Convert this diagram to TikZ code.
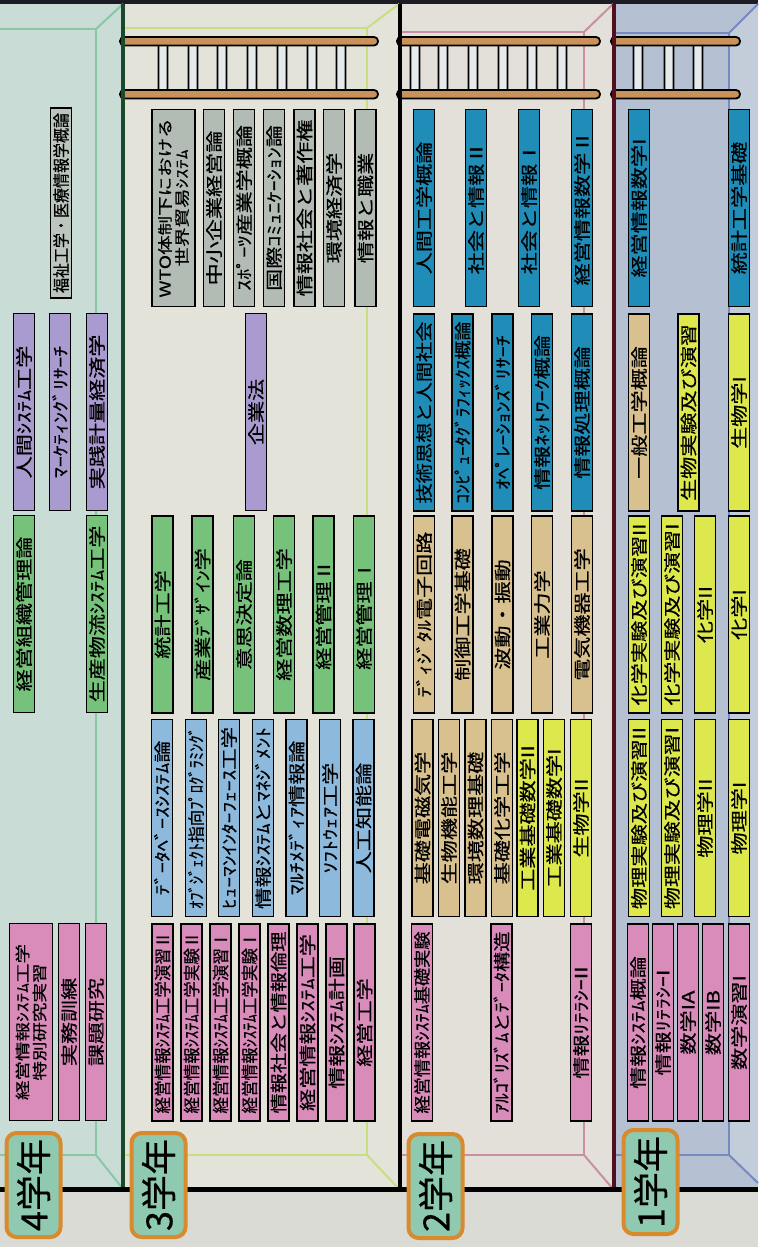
\documentclass[tikz,border=0pt]{standalone}
\usepackage{fontspec}
\setmainfont{Noto Sans CJK JP}[FakeBold=0.5]
\definecolor{floorc}{HTML}{D9DBD4}
\definecolor{p4c}{HTML}{C9DDD6}
\definecolor{p3c}{HTML}{E3E3D9}
\definecolor{p2c}{HTML}{E2E0D9}
\definecolor{p1c}{HTML}{B5C1D3}
\definecolor{p1side}{HTML}{C3CCD9}
\definecolor{topc}{HTML}{1C1C24}
\definecolor{l4}{HTML}{88C8A8}
\definecolor{l3}{HTML}{C8DE80}
\definecolor{l2}{HTML}{C890A2}
\definecolor{l1}{HTML}{7888C0}
\definecolor{s4}{HTML}{1A4A2A}
\definecolor{s2}{HTML}{501020}
\definecolor{cpink}{HTML}{D98BBA}
\definecolor{cgreen}{HTML}{77C27A}
\definecolor{cpurple}{HTML}{A99AD0}
\definecolor{cgrey}{HTML}{B3BBB5}
\definecolor{cgrey4}{HTML}{BCC6BF}
\definecolor{clblue}{HTML}{8DB9DD}
\definecolor{cdblue}{HTML}{1F8DB8}
\definecolor{ctan}{HTML}{D9C08F}
\definecolor{cyellow}{HTML}{DDE84C}
\definecolor{labfill}{HTML}{8FCAB0}
\definecolor{labdraw}{HTML}{D88A2E}
\definecolor{railc}{HTML}{C8925A}
\definecolor{rungc}{HTML}{E6EAEA}
\newlength\fitw
\newcommand{\fit}[2][182]{\settowidth{\fitw}{#2}\pgfmathsetmacro\fitsc{min(1.3,#1/\fitw)}\scalebox{\fitsc}[1]{#2}}
\newcommand{\crs}[5]{\node[#2] (#1) at (#3,#4) {\fit{#5}};}
\begin{document}
\begin{tikzpicture}[x=1pt,y=-1pt,
  box/.style={draw=black, line width=1.6pt, rotate=90, minimum width=197pt,
    minimum height=21pt, inner sep=0pt, font=\fontsize{17pt}{19pt}\selectfont},
  pinkb/.style={box, fill=cpink},
  greenb/.style={box, fill=cgreen},
  purpb/.style={box, fill=cpurple},
  grayb/.style={box, fill=cgrey},
  lblueb/.style={box, fill=clblue},
  dblueb/.style={box, fill=cdblue},
  tanb/.style={box, fill=ctan},
  yelb/.style={box, fill=cyellow},
  twol/.style={minimum height=43pt, align=center, font=\fontsize{15pt}{17pt}\selectfont},
  yearlab/.style={draw=labdraw, line width=4pt, fill=labfill, rounded corners=10pt,
    rotate=90, minimum width=104pt, minimum height=54pt, inner sep=0pt,
    font=\fontsize{36pt}{40pt}\selectfont},
  persp/.style={line width=2pt},
  rail/.style={draw=black, line width=1.8pt, fill=railc, rounded corners=4pt},
  rung/.style={draw=black, line width=1.8pt, fill=rungc, rounded corners=2.5pt}
]
\useasboundingbox (0,0) rectangle (758,1247);
% backgrounds
\fill[floorc] (0,0) rectangle (758,1247);
\fill[p4c] (0,4) rectangle (123,1189);
\fill[p3c] (123,4) rectangle (400,1189);
\fill[p2c] (400,4) rectangle (614,1189);
\fill[p1c] (614,4) rectangle (758,1189);
\fill[p1side] (729,33) -- (758,4) -- (758,1183) -- (729,1155) -- cycle;
\fill[topc] (0,0) rectangle (758,4.5);
% perspective lines
\draw[persp, l4] (0,29) -- (96,29) -- (96,1155) -- (0,1155);
\draw[persp, l4] (96,29) -- (123,4) (96,1155) -- (123,1189);
\draw[persp, l3] (124,28) -- (367,28) -- (367,1155) -- (124,1155);
\draw[persp, l3] (367,28) -- (399,4) (367,1155) -- (399,1189);
\draw[persp, l2] (402,32) -- (584,32) -- (584,1155) -- (402,1155);
\draw[persp, l2] (584,32) -- (613,4) (584,1155) -- (613,1189);
\draw[persp, l1] (616,33) -- (729,33) -- (729,1155) -- (616,1155);
\draw[persp, l1] (729,33) -- (758,4) (729,1155) -- (758,1183);
% ladders
\foreach \rx in {163,193,222,252,282,312,341,415,443,473,503,532,562,638,669,698}
  \draw[rung] (\rx-4.5,42) rectangle (\rx+4.5,93);
\draw[rail] (120,37) rectangle (378,45.5);
\draw[rail] (120,90) rectangle (378,98.5);
\draw[rail] (397,37) rectangle (600,45.5);
\draw[rail] (397,90) rectangle (600,98.5);
\draw[rail] (611,37) rectangle (740,45.5);
\draw[rail] (611,90) rectangle (740,98.5);
% separators and floor
\draw[s4, line width=3.5pt] (123,4) -- (123,1189);
\draw[black, line width=3.5pt] (400,4) -- (400,1189);
\draw[s2, line width=3.5pt] (614,4) -- (614,1189);
\draw[black, line width=5pt] (0,1189) -- (758,1189);
% ---- 4th year
\node[box, fill=cgrey4, minimum width=190pt] (w1) at (61,203) {\fit[180]{福祉工学・医療情報学概論}};
\crs{w2}{purpb}{24}{412}{人間ｼｽﾃﾑ工学}
\crs{w3}{purpb}{60}{412}{ﾏｰｹﾃｨﾝｸﾞﾘｻｰﾁ}
\crs{w4}{purpb}{97}{412}{実践計量経済学}
\crs{w5}{greenb}{24}{614}{経営組織管理論}
\crs{w6}{greenb}{97}{614}{生産物流ｼｽﾃﾑ工学}
\node[pinkb, twol] (w7) at (31,1022) {\fit{経営情報ｼｽﾃﾑ工学}\\\fit{特別研究実習}};
\crs{w8}{pinkb}{69}{1022}{実務訓練}
\crs{w9}{pinkb}{96}{1022}{課題研究}
% ---- 3rd year
\node[grayb, twol] (t1) at (173.5,208) {\fit{WTO体制下における}\\\fit{世界貿易ｼｽﾃﾑ}};
\crs{t2}{grayb}{214}{208}{中小企業経営論}
\crs{t3}{grayb}{244}{208}{ｽﾎﾟｰﾂ産業学概論}
\crs{t4}{grayb}{274}{208}{国際ｺﾐｭﾆｹｰｼｮﾝ論}
\crs{t5}{grayb}{304.5}{208}{情報社会と著作権}
\crs{t6}{grayb}{334}{208}{環境経済学}
\crs{t7}{grayb}{365.5}{208}{情報と職業}
\crs{t8}{purpb}{256}{412}{企業法}
\crs{t9}{greenb}{162.5}{614.5}{統計工学}
\crs{t10}{greenb}{202.5}{614.5}{産業ﾃﾞｻﾞｲﾝ学}
\crs{t11}{greenb}{244}{614.5}{意思決定論}
\crs{t12}{greenb}{284}{614.5}{経営数理工学}
\crs{t13}{greenb}{323.5}{614.5}{経営管理Ⅱ}
\crs{t14}{greenb}{364}{614.5}{経営管理Ⅰ}
\crs{t15}{lblueb}{162}{818}{ﾃﾞｰﾀﾍﾞｰｽｼｽﾃﾑ論}
\crs{t16}{lblueb}{196}{818}{ｵﾌﾞｼﾞｪｸﾄ指向ﾌﾟﾛｸﾞﾗﾐﾝｸﾞ}
\crs{t17}{lblueb}{229}{818}{ﾋｭｰﾏﾝｲﾝﾀｰﾌｪｰｽ工学}
\crs{t18}{lblueb}{263}{818}{情報ｼｽﾃﾑとﾏﾈｼﾞﾒﾝﾄ}
\crs{t19}{lblueb}{296.5}{818}{ﾏﾙﾁﾒﾃﾞｨｱ情報論}
\crs{t20}{lblueb}{330}{818}{ｿﾌﾄｳｪｱ工学}
\crs{t21}{lblueb}{363.5}{818}{人工知能論}
\crs{t22}{pinkb}{162.5}{1022.5}{経営情報ｼｽﾃﾑ工学演習Ⅱ}
\crs{t23}{pinkb}{191.5}{1022.5}{経営情報ｼｽﾃﾑ工学実験Ⅱ}
\crs{t24}{pinkb}{220.5}{1022.5}{経営情報ｼｽﾃﾑ工学演習Ⅰ}
\crs{t25}{pinkb}{249.5}{1022.5}{経営情報ｼｽﾃﾑ工学実験Ⅰ}
\crs{t26}{pinkb}{278.5}{1022.5}{情報社会と情報倫理}
\crs{t27}{pinkb}{307.5}{1022.5}{経営情報ｼｽﾃﾑ工学}
\crs{t28}{pinkb}{336.5}{1022.5}{情報ｼｽﾃﾑ計画}
\crs{t29}{pinkb}{364.5}{1022.5}{経営工学}
% ---- 2nd year
\crs{s1}{dblueb}{424}{208}{人間工学概論}
\crs{s2}{dblueb}{476}{208}{社会と情報Ⅱ}
\crs{s3}{dblueb}{529}{208}{社会と情報Ⅰ}
\crs{s4}{dblueb}{582}{208}{経営情報数学Ⅱ}
\crs{s5}{dblueb}{424}{412.5}{技術思想と人間社会}
\crs{s6}{dblueb}{462.5}{412.5}{ｺﾝﾋﾟｭｰﾀｸﾞﾗﾌｨｯｸｽ概論}
\crs{s7}{dblueb}{502.5}{412.5}{ｵﾍﾟﾚｰｼｮﾝｽﾞﾘｻｰﾁ}
\crs{s8}{dblueb}{542}{412.5}{情報ﾈｯﾄﾜｰｸ概論}
\crs{s9}{dblueb}{582}{412.5}{情報処理概論}
\crs{s10}{tanb}{424}{614.5}{ﾃﾞｨｼﾞﾀﾙ電子回路}
\crs{s11}{tanb}{462.5}{614.5}{制御工学基礎}
\crs{s12}{tanb}{502.5}{614.5}{波動・振動}
\crs{s13}{tanb}{542}{614.5}{工業力学}
\crs{s14}{tanb}{582}{614.5}{電気機器工学}
\crs{s15}{tanb}{422.5}{818}{基礎電磁気学}
\crs{s16}{tanb}{449}{818}{生物機能工学}
\crs{s17}{tanb}{475.5}{818}{環境数理基礎}
\crs{s18}{tanb}{502}{818}{基礎化学工学}
\crs{s19}{yelb}{527.5}{818}{工業基礎数学II}
\crs{s20}{yelb}{554}{818}{工業基礎数学I}
\crs{s21}{yelb}{581}{818}{生物学II}
\crs{s22}{pinkb}{422}{1022.5}{経営情報ｼｽﾃﾑ基礎実験}
\crs{s23}{pinkb}{501.5}{1022.5}{ｱﾙｺﾞﾘｽﾞﾑとﾃﾞｰﾀ構造}
\crs{s24}{pinkb}{581}{1022.5}{情報ﾘﾃﾗｼｰII}
% ---- 1st year
\crs{f1}{dblueb}{639}{208}{経営情報数学I}
\crs{f2}{dblueb}{739}{208}{統計工学基礎}
\crs{f3}{tanb}{639}{412.5}{一般工学概論}
\crs{f4}{yelb}{688.5}{412.5}{生物実験及び演習}
\crs{f5}{yelb}{739}{412.5}{生物学I}
\crs{f6}{yelb}{639}{614.5}{化学実験及び演習II}
\crs{f7}{yelb}{672}{614.5}{化学実験及び演習I}
\crs{f8}{yelb}{705}{614.5}{化学II}
\crs{f9}{yelb}{739}{614.5}{化学I}
\crs{f10}{yelb}{639}{818}{物理実験及び演習II}
\crs{f11}{yelb}{672}{818}{物理実験及び演習I}
\crs{f12}{yelb}{705}{818}{物理学II}
\crs{f13}{yelb}{739}{818}{物理学I}
\crs{f14}{pinkb}{638}{1022.5}{情報ｼｽﾃﾑ概論}
\crs{f15}{pinkb}{663}{1022.5}{情報ﾘﾃﾗｼｰI}
\crs{f16}{pinkb}{688}{1022.5}{数学IA}
\crs{f17}{pinkb}{713}{1022.5}{数学IB}
\crs{f18}{pinkb}{739}{1022.5}{数学演習I}
% ---- year labels
\node[yearlab] (y4) at (33.5,1185) {4学年};
\node[yearlab] (y3) at (158.5,1185) {3学年};
\node[yearlab] (y2) at (435.5,1186) {2学年};
\node[yearlab] (y1) at (650.5,1182) {1学年};
\end{tikzpicture}
\end{document}
